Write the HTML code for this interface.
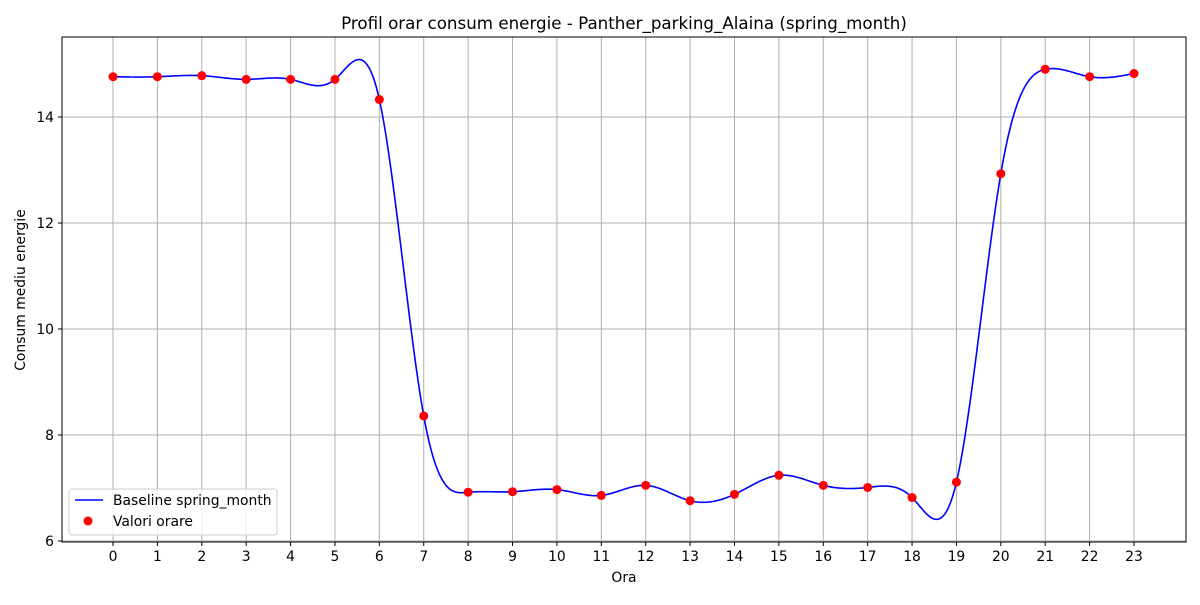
<!DOCTYPE html>
<html><head><meta charset="utf-8"><style>
body{margin:0;background:#fff}
svg text{font-family:"DejaVu Sans","Liberation Sans",sans-serif;fill:#000}
</style></head><body>
<svg id="c" width="1200" height="600" xmlns="http://www.w3.org/2000/svg">
<rect width="1200" height="600" fill="#fff"/>
<text x="624" y="29" font-size="16.7" text-anchor="middle">Profil orar consum energie - Panther_parking_Alaina (spring_month)</text>
<g id="grid"></g>
<g id="series"></g>
<rect x="62" y="37" width="1124" height="505" fill="none" stroke="#000" stroke-width="1"/>
<g id="axes"></g>
<text x="624" y="582" font-size="13.9" text-anchor="middle">Ora</text>
<text x="25" y="290" font-size="13.9" text-anchor="middle" transform="rotate(-90 25 290)">Consum mediu energie</text>
<g>
<rect x="69" y="489" width="208" height="46" rx="3" fill="#fff" fill-opacity="0.8" stroke="#ccc"/>
<line x1="75" y1="500" x2="103" y2="500" stroke="#0000ff" stroke-width="1.5"/>
<text x="113" y="505" font-size="13.9">Baseline spring_month</text>
<circle cx="88" cy="521" r="4.5" fill="#ff0000"/>
<text x="113" y="526" font-size="13.9">Valori orare</text>
</g>
</svg>
<script>
const hours=[0,1,2,3,4,5,6,7,8,9,10,11,12,13,14,15,16,17,18,19,20,21,22,23];
const values=[14.76,14.76,14.78,14.71,14.71,14.71,14.33,8.36,6.92,6.93,6.97,6.86,7.05,6.76,6.88,7.24,7.05,7.01,6.82,7.11,12.93,14.90,14.76,14.82];
const yTicks=[6,8,10,12,14];
const NS="http://www.w3.org/2000/svg";
const X0=62,X1=1186,Y0=37,Y1=542;
const xs=h=>113+h*(1134-113)/23;
const ys=v=>541-(v-6)*53;
function mk(t,a,p){const e=document.createElementNS(NS,t);for(const k in a)e.setAttribute(k,a[k]);p.appendChild(e);return e;}
const grid=document.getElementById('grid'),axes=document.getElementById('axes'),ser=document.getElementById('series');
hours.forEach(h=>{const x=xs(h);
const g=mk('line',{x1:x,x2:x,y1:Y0,y2:Y1,stroke:'#b0b0b0','stroke-width':1},grid);


mk('line',{x1:x,x2:x,y1:Y1,y2:Y1+4,stroke:'#000'},axes);
const t=mk('text',{x:x,y:Y1+19,'font-size':13.9,'text-anchor':'middle'},axes);t.textContent=h;

});
yTicks.forEach(v=>{const y=ys(v);
const g=mk('line',{x1:X0,x2:X1,y1:y,y2:y,stroke:'#b0b0b0','stroke-width':1},grid);


mk('line',{x1:X0-4,x2:X0,y1:y,y2:y,stroke:'#000'},axes);
const t=mk('text',{x:X0-8,y:y+5,'font-size':13.9,'text-anchor':'end'},axes);t.textContent=v;

});
const n=hours.length,M=new Array(n).fill(0);
{const a=[],b=[],c=[],d=[];for(let i=1;i<n-1;i++){a.push(1);b.push(4);c.push(1);d.push(6*(values[i+1]-2*values[i]+values[i-1]));}
const m=d.length;for(let i=1;i<m;i++){const w=a[i]/b[i-1];b[i]-=w*c[i-1];d[i]-=w*d[i-1];}
const s=new Array(m);s[m-1]=d[m-1]/b[m-1];for(let i=m-2;i>=0;i--)s[i]=(d[i]-c[i]*s[i+1])/b[i];for(let i=0;i<m;i++)M[i+1]=s[i];}
let dstr='';
for(let i=0;i<n-1;i++){for(let k=0;k<=30;k++){const t=k/30,A=1-t;
const v=A*values[i]+t*values[i+1]+((A*A*A-A)*M[i]+(t*t*t-t)*M[i+1])/6;
dstr+=(dstr?'L':'M')+xs(hours[i]+t).toFixed(2)+','+ys(v).toFixed(2);}}
const line=mk('path',{d:dstr,fill:'none',stroke:'#0000ff','stroke-width':1.6},ser);


hours.forEach((h,i)=>{const c=mk('circle',{cx:xs(h),cy:ys(values[i]),r:4.5,fill:'#ff0000'},ser);

});
</script>
</body></html>
